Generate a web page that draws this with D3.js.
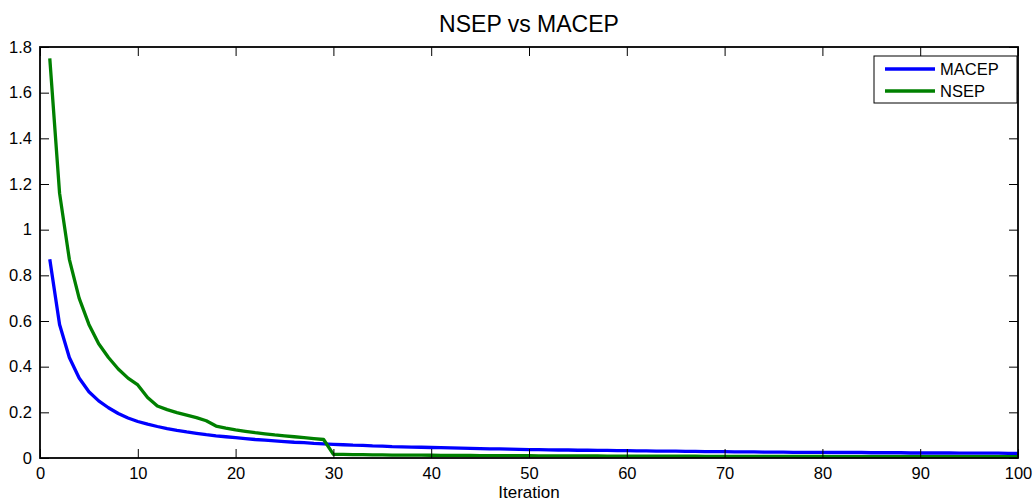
<!DOCTYPE html>
<html>
<head>
<meta charset="utf-8">
<script src="https://cdn.jsdelivr.net/npm/d3@7"></script>
<style>
  body { margin: 0; background: #fff; }
  svg text { font-family: "Liberation Sans", Arial, sans-serif; fill: #000; }
</style>
</head>
<body>
<svg id="chart" width="1034" height="503"></svg>
<script>
const title = "NSEP vs MACEP";
const xLabel = "Iteration";
const xTicks = [0, 10, 20, 30, 40, 50, 60, 70, 80, 90, 100];
const yTicks = [0, 0.2, 0.4, 0.6, 0.8, 1, 1.2, 1.4, 1.6, 1.8];

const macep = [
  0.87, 0.585, 0.44, 0.35, 0.29, 0.25, 0.22, 0.195, 0.175, 0.16,
  0.148, 0.138, 0.129, 0.121, 0.114, 0.108, 0.102, 0.097, 0.093, 0.089,
  0.085, 0.081, 0.078, 0.075, 0.072, 0.069, 0.067, 0.064, 0.062, 0.060,
  0.058, 0.056, 0.055, 0.053, 0.052, 0.050, 0.049, 0.048, 0.047, 0.046,
  0.045, 0.044, 0.043, 0.042, 0.041, 0.040, 0.040, 0.039, 0.038, 0.037,
  0.037, 0.036, 0.035, 0.035, 0.034, 0.034, 0.033, 0.033, 0.032, 0.032,
  0.031, 0.031, 0.030, 0.030, 0.030, 0.029, 0.029, 0.028, 0.028, 0.028,
  0.027, 0.027, 0.027, 0.026, 0.026, 0.026, 0.025, 0.025, 0.025, 0.025,
  0.024, 0.024, 0.024, 0.024, 0.023, 0.023, 0.023, 0.023, 0.022, 0.022,
  0.022, 0.022, 0.022, 0.021, 0.021, 0.021, 0.021, 0.021, 0.020, 0.020
];

const nsep = [
  1.75, 1.16, 0.87, 0.70, 0.585, 0.50, 0.44, 0.39, 0.35, 0.32,
  0.265, 0.228, 0.212, 0.199, 0.188, 0.177, 0.163, 0.14, 0.131, 0.123,
  0.117, 0.111, 0.106, 0.101, 0.097, 0.093, 0.089, 0.085, 0.081, 0.016,
  0.0155, 0.015, 0.0145, 0.014, 0.0135, 0.013, 0.0128, 0.0125, 0.0122, 0.012,
  0.0117, 0.0114, 0.0112, 0.011, 0.0108, 0.0106, 0.0104, 0.0102, 0.010, 0.0098,
  0.0096, 0.0094, 0.0093, 0.0091, 0.009, 0.0088, 0.0087, 0.0086, 0.0084, 0.0083,
  0.0082, 0.0081, 0.008, 0.0079, 0.0078, 0.0077, 0.0076, 0.0075, 0.0074, 0.0073,
  0.0072, 0.0071, 0.007, 0.0069, 0.0069, 0.0068, 0.0067, 0.0066, 0.0066, 0.0065,
  0.0064, 0.0064, 0.0063, 0.0062, 0.0062, 0.0061, 0.006, 0.006, 0.0059, 0.0059,
  0.0058, 0.0058, 0.0057, 0.0057, 0.0056, 0.0056, 0.0055, 0.0055, 0.0054, 0.0054
];

const series = [
  { name: "MACEP", values: macep, color: "#0000ff" },
  { name: "NSEP", values: nsep, color: "#008000" }
];

const margin = { left: 40, right: 16, top: 47, bottom: 45 };
const width = 1034, height = 503;
const svg = d3.select("#chart");

const x = d3.scaleLinear().domain([0, 100]).range([margin.left, width - margin.right]);
const y = d3.scaleLinear().domain([0, 1.8]).range([height - margin.bottom, margin.top]);
const fmt = (d) => String(+d.toFixed(1));

// lines first, axes drawn over them
const line = d3.line().x((d, i) => x(i + 1)).y((d) => y(d));
series.forEach((s) => {
  svg.append("path")
    .datum(s.values)
    .attr("fill", "none")
    .attr("stroke", s.color)
    .attr("stroke-width", 3.3)
    .attr("stroke-linejoin", "round")
    .attr("d", line);
});

function styleAxis(g) {
  g.select(".domain").remove();
  g.selectAll(".tick line").attr("stroke", "#000").attr("stroke-width", 1);
  g.selectAll(".tick text").attr("font-size", 16.5).attr("fill", "#000")
    .style("font-family", "'Liberation Sans', Arial, sans-serif");
}

const tickLen = 9;
svg.append("g")
  .attr("transform", `translate(0,${y(0)})`)
  .call(d3.axisBottom(x).tickValues(xTicks).tickFormat(fmt).tickSizeInner(-tickLen).tickSizeOuter(0).tickPadding(9))
  .call(styleAxis);
svg.append("g")
  .attr("transform", `translate(0,${y(1.8)})`)
  .call(d3.axisTop(x).tickValues(xTicks).tickFormat("").tickSizeInner(-tickLen).tickSizeOuter(0))
  .call(styleAxis);
svg.append("g")
  .attr("transform", `translate(${x(0)},0)`)
  .call(d3.axisLeft(y).tickValues(yTicks).tickFormat(fmt).tickSizeInner(-tickLen).tickSizeOuter(0).tickPadding(8))
  .call(styleAxis);
svg.append("g")
  .attr("transform", `translate(${x(100)},0)`)
  .call(d3.axisRight(y).tickValues(yTicks).tickFormat("").tickSizeInner(-tickLen).tickSizeOuter(0))
  .call(styleAxis);

svg.append("rect")
  .attr("x", x(0)).attr("y", y(1.8))
  .attr("width", x(100) - x(0)).attr("height", y(0) - y(1.8))
  .attr("fill", "none").attr("stroke", "#000").attr("stroke-width", 1.8);

svg.append("text")
  .attr("x", (x(0) + x(100)) / 2).attr("y", 32)
  .attr("text-anchor", "middle").attr("font-size", 23)
  .text(title);

svg.append("text")
  .attr("x", (x(0) + x(100)) / 2).attr("y", 498)
  .attr("text-anchor", "middle").attr("font-size", 17)
  .text(xLabel);

// legend
const legend = svg.append("g").attr("transform", "translate(874,56)");
legend.append("rect")
  .attr("width", 143).attr("height", 47)
  .attr("fill", "#fff").attr("stroke", "#000").attr("stroke-width", 1);
series.forEach((s, i) => {
  const ly = 13 + i * 22;
  legend.append("line")
    .attr("x1", 11).attr("x2", 61).attr("y1", ly).attr("y2", ly)
    .attr("stroke", s.color).attr("stroke-width", 3.3);
  legend.append("text")
    .attr("x", 66).attr("y", ly + 6)
    .attr("font-size", 16.5)
    .text(s.name);
});
</script>
</body>
</html>
